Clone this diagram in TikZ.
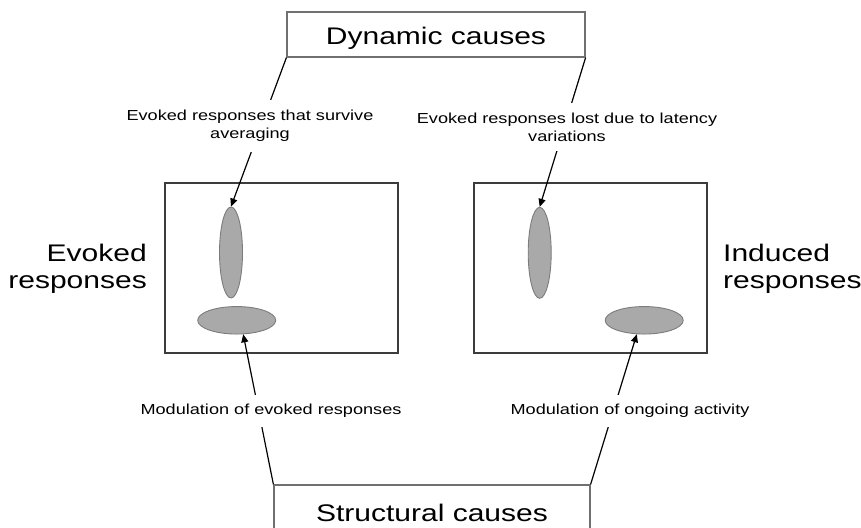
\documentclass[tikz,border=0pt]{standalone}
\usepackage{fontspec}
\setmainfont{Liberation Sans}[FakeStretch=1.25]
\usetikzlibrary{arrows.meta,shapes.geometric}
\definecolor{framegray}{HTML}{3C3C3C}
\definecolor{causegray}{HTML}{707070}
\definecolor{blobfill}{HTML}{A9A9A9}
\definecolor{blobedge}{HTML}{7C7C7C}
\begin{document}
\begin{tikzpicture}[x=1pt,y=-1pt,
  panel/.style={draw=framegray,line width=2pt,minimum width=233pt,minimum height=170pt,inner sep=0pt,anchor=north west},
  causebox/.style={draw=causegray,line width=1.2pt,inner sep=0pt,font=\fontsize{24}{28}\selectfont,text height=20pt,text depth=0pt},
  blob/.style={ellipse,fill=blobfill,draw=blobedge,line width=0.9pt,inner sep=0pt},
  sidelabel/.style={font=\fontsize{24}{27}\selectfont,inner sep=0pt},
  note/.style={font=\fontsize{14.5}{18}\selectfont,align=center,fill=white,inner xsep=2pt,inner ysep=10pt},
  arrowlink/.style={line width=1.2pt,-{Triangle[length=8pt,width=7pt]}}
]
\useasboundingbox (0,0) rectangle (861,527);
\clip (0,0) rectangle (861,527);

% two response panels
\node[panel] (evpanel) at (164,182) {};
\node[panel] (inpanel) at (473,182) {};

% activity blobs
\node[blob,minimum width=23pt,minimum height=91pt] (evtop) at (231,252.5) {};
\node[blob,minimum width=78pt,minimum height=27.5pt] (evbot) at (236.7,320.3) {};
\node[blob,minimum width=23pt,minimum height=91pt] (intop) at (539.7,252.8) {};
\node[blob,minimum width=78pt,minimum height=27.5pt] (inbot) at (644.2,320.3) {};

% cause boxes
\node[causebox,minimum width=298pt,minimum height=45pt] (dyn) at (436,34.5) {Dynamic causes};
\node[causebox,minimum width=316pt,minimum height=52pt] (str) at (432,511) {Structural causes};

% connectors from the causes to the blobs
\draw[arrowlink] (dyn.south west) -- (evtop.north);
\draw[arrowlink] (dyn.south east) -- (intop.north);
\draw[arrowlink] (str.north west) -- (evbot.-65);
\draw[arrowlink] (str.north east) -- (inbot.-118);

% connector labels, set over the lines
\node[note] (survive) at (250,126) {Evoked responses that survive\\averaging};
\node[note] (lost) at (567,127) {Evoked responses lost due to latency\\variations};
\node[note,inner ysep=9pt] (modev) at (271,411) {Modulation of evoked responses};
\node[note,inner ysep=9pt] (modon) at (630,411) {Modulation of ongoing activity};

% panel titles
\node[sidelabel,align=right,anchor=east] (evoked) at (147,269) {Evoked\\responses};
\node[sidelabel,align=left,anchor=west] (induced) at (723,269) {Induced\\responses};
\end{tikzpicture}
\end{document}
